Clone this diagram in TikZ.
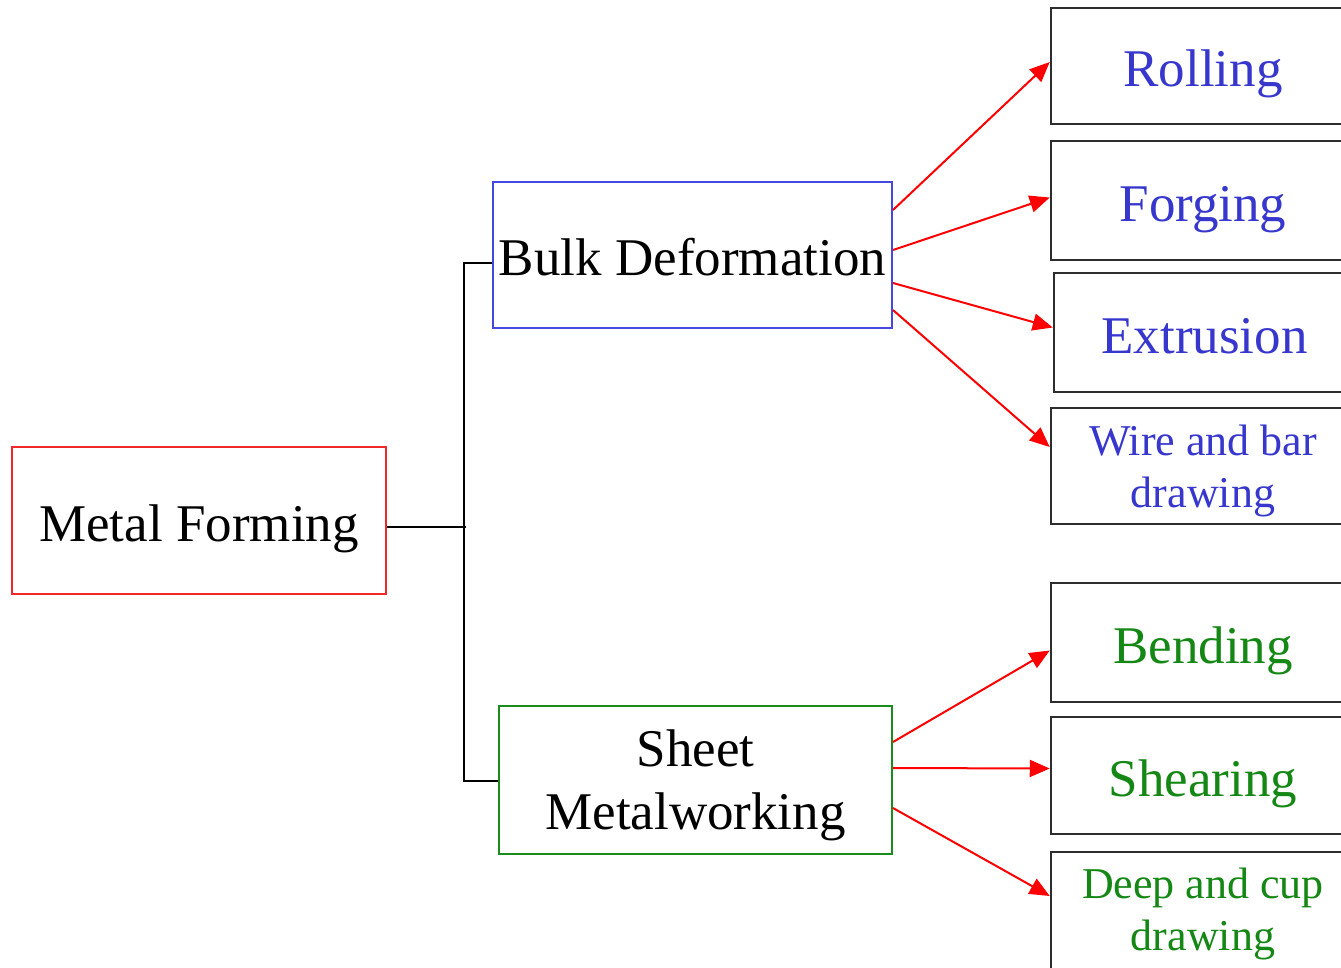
\documentclass[tikz,border=0pt]{standalone}
\usepackage{fontspec}
\setmainfont{Liberation Serif}
\usetikzlibrary{arrows.meta}
\definecolor{boxred}{RGB}{240,40,40}
\definecolor{boxblue}{RGB}{70,70,225}
\definecolor{txtblue}{RGB}{55,55,205}
\definecolor{boxgreen}{RGB}{25,140,25}
\definecolor{txtgreen}{RGB}{20,135,20}
\definecolor{boxgray}{RGB}{45,45,45}
\begin{document}
\begin{tikzpicture}[x=1pt,y=-1pt,
  big node/.style={rectangle,draw,line width=2pt,inner sep=0pt,align=center,
    font=\fontsize{53}{63}\selectfont},
  leaf node/.style={rectangle,draw=boxgray,line width=2.5pt,inner sep=0pt,
    align=center,minimum width=304pt,font=\fontsize{53}{60}\selectfont},
  small leaf/.style={leaf node,font=\fontsize{44}{52}\selectfont},
  one line/.style={text height=41pt,text depth=0pt},
  link/.style={red,line width=2pt,-{Triangle[length=20pt,width=17pt]}}]

  \useasboundingbox (0,0) rectangle (1341,967);

  \node[big node,one line,draw=boxred,minimum width=374pt,minimum height=147pt] (mf) at (199,520.5) {Metal Forming};
  \node[big node,one line,draw=boxblue,minimum width=399pt,minimum height=146pt] (bulk) at (692.5,255) {Bulk Deformation};
  \node[big node,text depth=0pt,draw=boxgreen,minimum width=393pt,minimum height=148pt] (sheet) at (695.5,780) {Sheet\\Metalworking};

  \node[leaf node,one line,text=txtblue,minimum height=116pt] (rolling) at (1203,66) {Rolling};
  \node[leaf node,one line,text=txtblue,minimum height=119pt] (forging) at (1203,200.5) {Forging};
  \node[leaf node,one line,text=txtblue,minimum height=119pt,minimum width=301pt] (extrusion) at (1204.5,332.5) {Extrusion};
  \node[small leaf,text depth=0pt,text=txtblue,minimum height=116pt] (wire) at (1203,466) {Wire and bar\\drawing};
  \node[leaf node,one line,text=txtgreen,minimum height=119pt] (bending) at (1203,642.5) {Bending};
  \node[leaf node,one line,text=txtgreen,minimum height=117pt] (shearing) at (1203,775.5) {Shearing};
  \node[small leaf,text=txtgreen,minimum height=124pt] (deep) at (1203,914) {Deep and cup\\drawing};

  \draw[line width=2pt] ([yshift=-6pt]mf.east) -- ++(79,0);
  \draw[line width=2pt] ([yshift=-8pt]bulk.west) -- ++(-28,0) |- ([yshift=-1pt]sheet.west);

  \draw[link] ([yshift=45pt]bulk.east) -- ([yshift=4pt]rolling.west);
  \draw[link] ([yshift=5pt]bulk.east) -- ([yshift=3pt]forging.west);
  \draw[link] ([yshift=-28pt]bulk.east) -- ([yshift=5pt]extrusion.west);
  \draw[link] ([yshift=-55pt]bulk.east) -- ([yshift=19pt]wire.west);

  \draw[link] ([yshift=38pt]sheet.east) -- ([yshift=-8pt]bending.west);
  \draw[link] ([yshift=12pt]sheet.east) -- ([yshift=7pt]shearing.west);
  \draw[link] ([yshift=-28pt]sheet.east) -- ([yshift=18pt]deep.west);

\end{tikzpicture}
\end{document}
